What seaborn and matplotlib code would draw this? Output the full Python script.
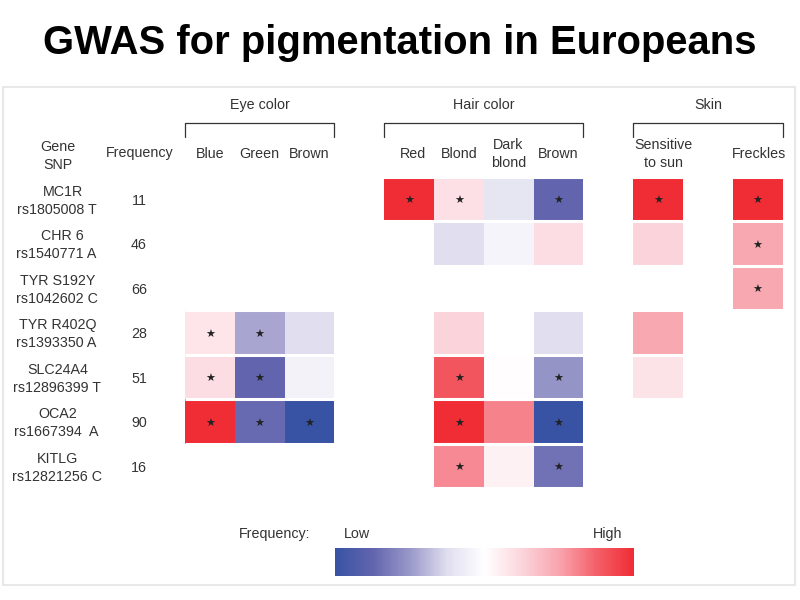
#!/usr/bin/env python3
"""GWAS pigmentation heatmap: SNP vs eye, hair and skin traits."""

import numpy as np
import seaborn as sns
import matplotlib.pyplot as plt
from matplotlib.colors import LinearSegmentedColormap
from matplotlib.patches import Rectangle

W, H = 800, 600
n = np.nan
S = "\u2605"
FS = 10.3

genes = ["MC1R", "CHR 6", "TYR S192Y", "TYR R402Q", "SLC24A4", "OCA2", "KITLG"]
snps = ["rs1805008 T", "rs1540771 A", "rs1042602 C", "rs1393350 A",
        "rs12896399 T", "rs1667394  A", "rs12821256 C"]
freqs = [11, 46, 66, 28, 51, 90, 16]

# columns: blue green brown | gap | red blond dark-blond brown | gap | sensitive | gap | freckles
col_labels = ["Blue", "Green", "Brown", "Red", "Blond", "Dark\nblond", "Brown",
              "Sensitive\nto sun", "Freckles"]
col_pos = [0.5, 1.5, 2.5, 4.57, 5.5, 6.49, 7.5, 9.6, 11.53]

groups = ["Eye color", "Hair color", "Skin"]
group_spans = [(0, 3), (4, 8), (9, 12)]

row_mc1r = [n, n, n, n, 1.0, 0.18, -0.2, -0.75, n, 1.0, n, 1.0]
row_chr6 = [n, n, n, n, n, -0.25, -0.08, 0.2, n, 0.25, n, 0.48]
row_s192 = [n, n, n, n, n, n, n, n, n, n, n, 0.48]
row_r402 = [0.15, -0.45, -0.25, n, n, 0.25, n, -0.25, n, 0.48, n, n]
row_slc = [0.2, -0.75, -0.1, n, n, 0.8, 0.01, -0.52, n, 0.17, n, n]
row_oca2 = [1.0, -0.72, -1.0, n, n, 1.0, 0.62, -1.0, n, n, n, n]
row_kitlg = [n, n, n, n, n, 0.6, 0.08, -0.68, n, n, n, n]

star_mc1r = ["", "", "", "", S, S, "", S, "", S, "", S]
star_chr6 = ["", "", "", "", "", "", "", "", "", "", "", S]
star_s192 = ["", "", "", "", "", "", "", "", "", "", "", S]
star_r402 = [S, S, "", "", "", "", "", "", "", "", "", ""]
star_slc = [S, S, "", "", "", S, "", S, "", "", "", ""]
star_oca2 = [S, S, S, "", "", S, "", S, "", "", "", ""]
star_kitlg = ["", "", "", "", "", S, "", S, "", "", "", ""]

cmap_colors = ["#3853a4", "#6265ae", "#9a98c9", "#e0deef", "#ffffff",
               "#fbd5dc", "#f8a5ae", "#f4606a", "#f02d35"]

# gene names are not all centred over the SNP line in the original
gene_px = [63, 62, 58, 58, 58, 58, 58]


def fx(px):
    return px / W


def fy(py):
    return 1 - py / H


def main():
    sns.set_theme(style="white")
    plt.rcParams['font.family'] = ['Liberation Sans', 'DejaVu Sans']
    text_color = "#333333"

    values = np.array([row_mc1r, row_chr6, row_s192, row_r402, row_slc, row_oca2, row_kitlg])
    stars = np.array([star_mc1r, star_chr6, star_s192, star_r402, star_slc, star_oca2, star_kitlg])
    cmap = LinearSegmentedColormap.from_list("low_high", cmap_colors)

    fig = plt.figure(figsize=(W / 100, H / 100), dpi=100, facecolor="white")

    # light panel frame behind everything
    fig.patches.append(Rectangle((fx(2.5), fy(585)), fx(792.5), 498 / H, transform=fig.transFigure,
                                 facecolor="white", edgecolor="#e8e8e8", linewidth=1.5, zorder=-1))

    ax = fig.add_axes([fx(185), fy(488.3), fx(597.6), 311.5 / H])
    cbar_ax = fig.add_axes([fx(335), fy(575.7), fx(299), 28 / H])

    sns.heatmap(values, ax=ax, cmap=cmap, vmin=-1, vmax=1, annot=stars, fmt="",
                annot_kws={"fontsize": 8, "color": "#222222"},
                cbar_ax=cbar_ax, cbar_kws={"orientation": "horizontal"},
                xticklabels=False, yticklabels=False)

    # stars sit a little under the cell centre
    for t in ax.texts:
        x, y = t.get_position()
        t.set_position((x, y + 0.05))

    # white gaps between rows only
    ax.hlines(range(len(genes) + 1), 0, values.shape[1], color="white", linewidth=2.2, clip_on=False)

    ax.xaxis.tick_top()
    ax.set_xticks(col_pos)
    ax.set_xticklabels(col_labels, fontsize=FS, color=text_color, linespacing=1.3)
    ax.tick_params(axis="x", length=0, pad=16.5)
    plt.setp(ax.get_xticklabels(), va="center")

    # brackets and group names over the columns
    for name, (a, b) in zip(groups, group_spans):
        ax.plot([a, a, b, b], [-0.9, -1.21, -1.21, -0.9], color="#333333", linewidth=0.9, clip_on=False)
        ax.text((a + b) / 2, -1.62, name, ha="center", va="center", fontsize=FS, color=text_color)

    cbar = ax.collections[0].colorbar
    cbar.set_ticks([])
    cbar.outline.set_visible(False)

    # row labels, left of the heatmap
    trans = ax.get_yaxis_transform()
    for i, (gene, snp, freq) in enumerate(zip(genes, snps, freqs)):
        gene_x = (gene_px[i] - 185) / 597.6
        ax.text(gene_x, i + 0.5 - 0.16, gene, transform=trans, ha="center", va="center", fontsize=FS, color=text_color)
        ax.text(-0.215, i + 0.5 + 0.24, snp, transform=trans, ha="center", va="center", fontsize=FS, color=text_color)
        ax.text(-0.077, i + 0.54, str(freq), transform=trans, ha="center", va="center", fontsize=FS, color=text_color)

    fig.text(fx(58), fy(156), "Gene\nSNP", ha="center", va="center", fontsize=FS, color=text_color, linespacing=1.3)
    fig.text(fx(139.5), fy(153), "Frequency", ha="center", va="center", fontsize=FS, color=text_color)

    fig.text(fx(274.5), fy(534), "Frequency:", ha="center", va="center", fontsize=FS, color=text_color)
    fig.text(fx(357), fy(534), "Low", ha="center", va="center", fontsize=FS, color=text_color)
    fig.text(fx(607.5), fy(534), "High", ha="center", va="center", fontsize=FS, color=text_color)

    fig.text(0.5, fy(43), "GWAS for pigmentation in Europeans", ha="center", va="center",
             fontsize=28.8, fontweight="bold", color="black")

    fig.savefig("out.png", dpi=100)
    plt.close(fig)


if __name__ == '__main__':
    main()
